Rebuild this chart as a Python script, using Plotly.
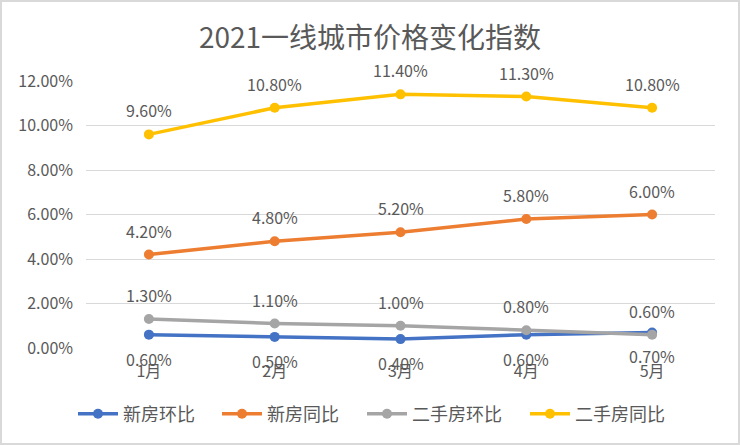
import plotly.graph_objects as go

months = ["1月", "2月", "3月", "4月", "5月"]
new_mom = [0.60, 0.50, 0.40, 0.60, 0.70]
new_yoy = [4.20, 4.80, 5.20, 5.80, 6.00]
sec_mom = [1.30, 1.10, 1.00, 0.80, 0.60]
sec_yoy = [9.60, 10.80, 11.40, 11.30, 10.80]

series = [
    ("新房环比", new_mom, "#4472C4", -1),
    ("新房同比", new_yoy, "#ED7D31", 1),
    ("二手房环比", sec_mom, "#A5A5A5", 1),
    ("二手房同比", sec_yoy, "#FFC000", 1),
]
legend_left_px = [73, 217, 362, 525]

FONT = "Noto Sans CJK SC, Noto Sans, sans-serif"
W, H = 740, 445
ml, mr, mt, mb = 86, 25, 81, 97
pw, ph = W - ml - mr, H - mt - mb

fig = go.Figure()
annotations = []
legends = {}
for i, (name, vals, color, side) in enumerate(series):
    lg = "legend" if i == 0 else f"legend{i + 1}"
    fig.add_trace(go.Scatter(
        x=months, y=vals, name=name, mode="lines+markers",
        line=dict(color=color, width=3.5),
        marker=dict(color=color, size=10),
        legend=lg, showlegend=True,
    ))
    legends[lg] = dict(
        orientation="h", x=(legend_left_px[i] - ml) / pw, xanchor="left",
        y=-(414 - (H - mb)) / ph, yanchor="middle",
        font=dict(size=18, color="#595959", family=FONT),
        itemwidth=40, bgcolor="rgba(0,0,0,0)",
    )
    for m, v in zip(months, vals):
        annotations.append(dict(
            x=m, y=v, xref="x", yref="y", text=f"{v:.2f}%", showarrow=False,
            yshift=24 * side, font=dict(size=16, color="#595959", family=FONT),
        ))

fig.update_layout(
    width=W, height=H,
    margin=dict(l=ml, r=mr, t=mt, b=mb),
    showlegend=True,
    paper_bgcolor="white", plot_bgcolor="white",
    font=dict(family=FONT, color="#595959", size=16),
    title=dict(text="2021一线城市价格变化指数", x=0.5, xanchor="center",
               y=1 - 38 / H, yanchor="middle",
               font=dict(size=28, color="#595959", family=FONT)),
    xaxis=dict(showgrid=False, showline=False, zeroline=False,
               ticks="", ticklabelstandoff=12,
               tickfont=dict(size=16, color="#595959"),
               range=[-0.5, 4.5]),
    yaxis=dict(range=[0, 12], dtick=2, tickformat=".2f", ticksuffix="%",
               showgrid=True, gridcolor="#D9D9D9", gridwidth=1,
               zeroline=False, showline=False, ticks="", ticklabelstandoff=12,
               tickfont=dict(size=16, color="#595959")),
    annotations=annotations,
    shapes=[dict(type="rect", xref="paper", yref="paper",
                 x0=-(ml - 1) / pw, x1=1 + (mr - 1) / pw,
                 y0=-(mb - 1) / ph, y1=1 + (mt - 1) / ph,
                 line=dict(color="#D9D9D9", width=2), layer="below")],
    **legends,
)
fig.write_html("out.html", config={"displayModeBar": False},
               post_script="document.body.style.margin='0';document.body.style.overflow='hidden';")
